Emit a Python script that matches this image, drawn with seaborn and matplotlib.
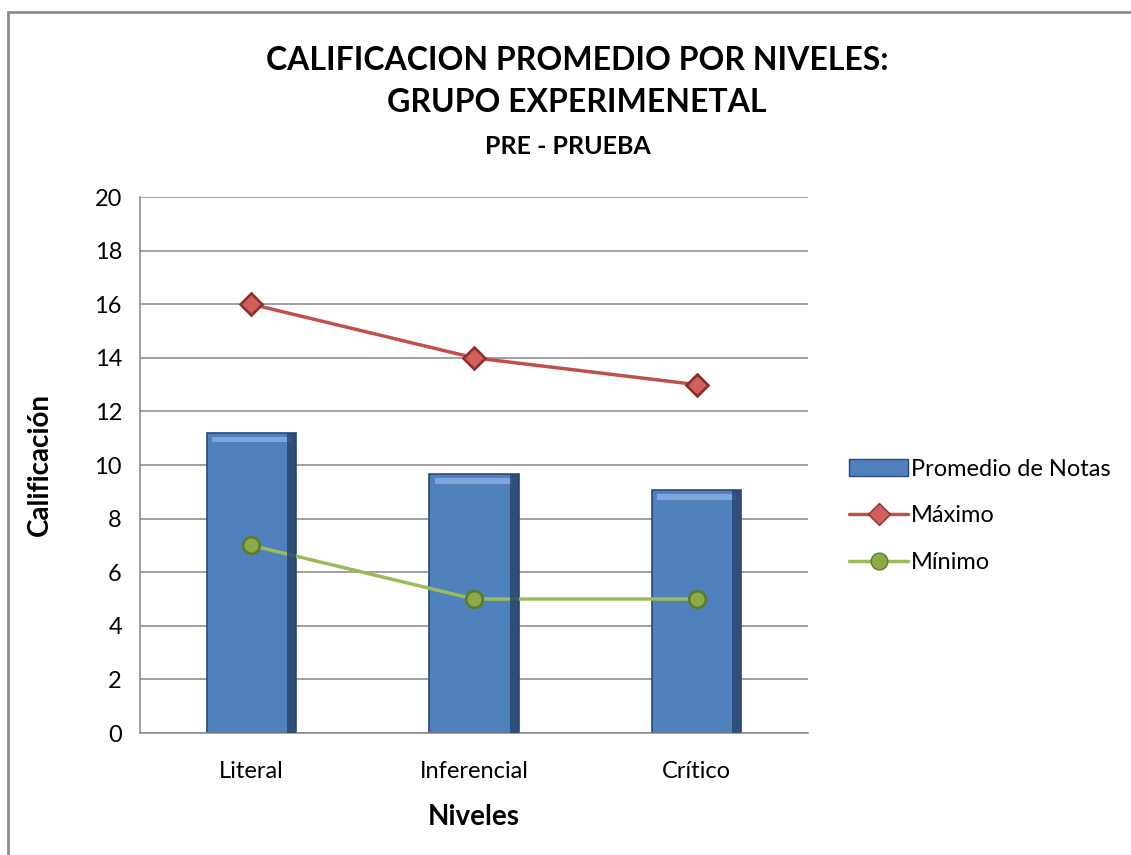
import numpy as np
import pandas as pd
import matplotlib
matplotlib.use("Agg")
import matplotlib.pyplot as plt
from matplotlib.patches import Rectangle
from matplotlib.lines import Line2D
import seaborn as sns

# datos
niveles = ['Literal', 'Inferencial', 'Crítico']
promedio = [11.2, 9.65, 9.05]
maximo = [16, 14, 13]
minimo = [7, 5, 5]

df = pd.DataFrame({'Nivel': niveles, 'Promedio de Notas': promedio,
                   'Máximo': maximo, 'Mínimo': minimo})

sns.set_style("white")
plt.rcParams['font.family'] = ['Lato', 'DejaVu Sans']
plt.rcParams['text.color'] = 'black'
plt.rcParams['axes.labelcolor'] = 'black'
plt.rcParams['xtick.labelcolor'] = 'black'
plt.rcParams['ytick.labelcolor'] = 'black'

fig = plt.figure(figsize=(11.31, 8.55), dpi=100)
ax = fig.add_axes([140 / 1131, 1 - 733 / 855, 668 / 1131, 536 / 855])

grid_col = '#868686'
ax.set_axisbelow(True)
ax.yaxis.grid(True, color=grid_col, linewidth=1.1)

sns.barplot(data=df, x='Nivel', y='Promedio de Notas', color='#4F81BD',
            width=0.4, edgecolor='#2a4a75', linewidth=1.2, saturation=1, ax=ax)
# brillo superior y sombra lateral del bisel
for p in ax.patches:
    x0, w, h = p.get_x(), p.get_width(), p.get_height()
    ax.add_patch(Rectangle((x0 + w * 0.06, h - 0.35), w * 0.88, 0.2,
                           facecolor='#7fa6dc', edgecolor='none', zorder=3))
    ax.add_patch(Rectangle((x0 + w * 0.9, 0), w * 0.1, h,
                           facecolor='#27436b', edgecolor='none', zorder=3, alpha=0.8))

sns.pointplot(data=df, x='Nivel', y='Máximo', color='#C0504D', markers='D',
              linestyles='-', linewidth=2.5, markersize=11,
              markeredgecolor='#8c2f2c', markerfacecolor='#d0605c', ax=ax)
sns.pointplot(data=df, x='Nivel', y='Mínimo', color='#9BBB59', markers='o',
              linestyles='-', linewidth=2.5, markersize=12,
              markeredgecolor='#5f7a2a', markerfacecolor='#8cab48', ax=ax)

ax.set_xlim(-0.5, 2.5)
ax.set_ylim(0, 20)
ax.set_yticks(range(0, 21, 2))
ax.set_xticks(range(3))
ax.set_xticklabels(niveles)
ax.set_xticks([-0.5, 0.5, 1.5, 2.5], minor=True)
ax.tick_params(axis='x', which='major', length=0, labelsize=17, pad=20)
ax.tick_params(axis='x', which='minor', length=8, width=1.1, color=grid_col, direction='out')
ax.tick_params(axis='y', length=7, width=1.1, color=grid_col, direction='out', labelsize=17, pad=6)
for s in ['top', 'right']:
    ax.spines[s].set_visible(False)
for s in ['left', 'bottom']:
    ax.spines[s].set_color(grid_col)
    ax.spines[s].set_linewidth(1.1)

ax.set_xlabel('Niveles', fontsize=20, fontweight='bold', labelpad=16)
ax.set_ylabel('Calificación', fontsize=20, fontweight='bold', labelpad=30)

fig.text(577 / 1131, 1 - 60 / 855, 'CALIFICACION PROMEDIO POR NIVELES:',
         ha='center', va='center', fontsize=23, fontweight='bold')
fig.text(577 / 1131, 1 - 103 / 855, 'GRUPO EXPERIMENETAL',
         ha='center', va='center', fontsize=23, fontweight='bold')
fig.text(568 / 1131, 1 - 146 / 855, 'PRE - PRUEBA',
         ha='center', va='center', fontsize=18, fontweight='bold')

# marco del grafico
fig.patches.append(Rectangle((8 / 1131, -0.1), 1.2, 1 - 12 / 855 + 0.1,
                             transform=fig.transFigure, fill=False,
                             edgecolor='#8c8c8c', linewidth=2))

handles = [Rectangle((0, 0), 1, 1, facecolor='#4F81BD', edgecolor='#2a4a75'),
           Line2D([], [], color='#C0504D', lw=2.5, marker='D', markersize=11,
                  markerfacecolor='#d0605c', markeredgecolor='#8c2f2c'),
           Line2D([], [], color='#9BBB59', lw=2.5, marker='o', markersize=12,
                  markerfacecolor='#8cab48', markeredgecolor='#5f7a2a')]
fig.legend(handles, ['Promedio de Notas', 'Máximo', 'Mínimo'],
           loc='center left', bbox_to_anchor=(840 / 1131, 1 - 516 / 855),
           frameon=False, fontsize=17, handlelength=2.5, handletextpad=0.1,
           labelspacing=1.1, handleheight=0.7, borderaxespad=0)

fig.savefig('out.png', dpi=100)
